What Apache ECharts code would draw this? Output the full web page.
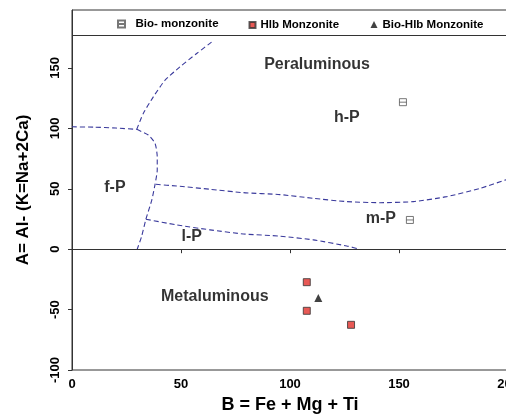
<!DOCTYPE html>
<html>
<head>
<meta charset="utf-8">
<script src="https://cdn.jsdelivr.net/npm/echarts@6/dist/echarts.min.js"></script>
<style>
  html, body { margin: 0; padding: 0; background: #fff; }
  #chart { width: 506px; height: 416px; }
</style>
</head>
<body>
<div id="chart"></div>
<script>
// Sample compositions, B = Fe + Mg + Ti vs A = Al - (K + Na + 2Ca)
const bioMonzonite = [[151.8, 121.7], [155, 24.2]];
const hlbMonzonite = [[107.7, -27.3], [107.7, -51], [128, -62.6]];
const bioHlbMonzonite = [[113, -40.5]];

// Field boundaries (dashed)
const boundaryTopLeft = [[0, 101.3], [10, 101], [20, 100.3], [29.7, 99.2]];
const boundaryUpper = [[29.7, 99.2], [32.7, 112.4], [37.3, 126.1], [42.7, 139.9], [49.5, 150.9], [57.2, 162], [64.5, 172.1]];
const boundaryFP = [[29.7, 99.2], [35, 94.5], [38.1, 87.6], [39.1, 76.5], [39.1, 65.5], [38.1, 53.7], [36.6, 40.7], [33.9, 24.8], [31.9, 10.4], [29.9, 0]];
const boundaryHP = [[38.5, 53.7], [48, 52.3], [63.3, 49.6], [78.6, 46.8], [95.4, 45.2], [110.7, 42.1], [126, 39.4], [141.3, 38.5], [156.6, 39.4], [171.9, 43.5], [187.2, 50.4], [200, 58]];
const boundaryLP = [[33.9, 24.8], [48, 20.1], [63.3, 16], [78.6, 12.6], [95.4, 10.8], [110.7, 7.7], [126, 2.7], [132, 0]];

// Field names and their positions
const fieldNames = ['Peraluminous', 'h-P', 'm-P', 'f-P', 'l-P', 'Metaluminous'];
const fieldX = [112.4, 126.1, 141.7, 19.7, 54.9, 65.5];
const fieldY = [152.6, 108.7, 25.1, 50.7, 10.4, -39.5];

// Axis ticks
const xTicks = [0, 50, 100, 150, 200];
const yTicks = [-100, -50, 0, 50, 100, 150];

const FONT = "'Liberation Sans', Arial, Helvetica, sans-serif";
const TEXT_COLOR = '#000';
const LINE_COLOR = '#3a3a9c';
const bioSymbol = 'path://M0,0L10,0L10,10L0,10Z M0,5L10,5';

function boundary(data) {
  return {
    type: 'line', data: data, smooth: 0.2, symbol: 'none', silent: true,
    lineStyle: { color: LINE_COLOR, width: 1.1, type: [5, 3] },
    z: 2
  };
}

const chart = echarts.init(document.getElementById('chart'), null, { renderer: 'canvas' });

chart.setOption({
  animation: false,
  backgroundColor: '#fff',
  textStyle: { fontFamily: FONT },
  grid: {
    left: 72, right: -2, top: 10, bottom: 46,
    outerBoundsMode: 'none', containLabel: false,
    show: true, borderColor: '#333', borderWidth: 1
  },
  legend: [
    {
      data: [{ name: 'Bio- monzonite', icon: bioSymbol }],
      left: 117, top: 18, padding: 0, itemWidth: 18, itemHeight: 7,
      textStyle: { fontSize: 11.5, fontWeight: 'bold', color: TEXT_COLOR, fontFamily: FONT }
    },
    {
      data: [{ name: 'Hlb Monzonite', icon: 'rect' }],
      left: 248.5, top: 19, padding: 0, itemWidth: 6, itemHeight: 6,
      textStyle: { fontSize: 11.5, fontWeight: 'bold', color: TEXT_COLOR, fontFamily: FONT }
    },
    {
      data: [{ name: 'Bio-Hlb Monzonite', icon: 'triangle' }],
      left: 370.5, top: 18.5, padding: 0, itemWidth: 7, itemHeight: 7,
      textStyle: { fontSize: 11.5, fontWeight: 'bold', color: TEXT_COLOR, fontFamily: FONT }
    }
  ],
  xAxis: {
    type: 'value', min: 0, max: 200, interval: 50,
    name: 'B = Fe + Mg + Ti', nameLocation: 'middle', nameGap: 22,
    nameTextStyle: { fontSize: 18, fontWeight: 'bold', color: TEXT_COLOR, fontFamily: FONT },
    axisLine: { show: true, lineStyle: { color: '#333', width: 1 } },
    axisTick: { show: true, length: 4, lineStyle: { color: '#333' }, customValues: xTicks },
    axisLabel: { fontSize: 13, fontWeight: 'bold', color: TEXT_COLOR, margin: 8, customValues: xTicks },
    splitLine: { show: false }
  },
  yAxis: {
    type: 'value', min: -100, max: 198, interval: 50,
    name: 'A= Al- (K=Na+2Ca)', nameLocation: 'middle', nameGap: 40,
    nameTextStyle: { fontSize: 17, fontWeight: 'bold', color: TEXT_COLOR, fontFamily: FONT },
    axisLine: { show: true, lineStyle: { color: '#333', width: 1 } },
    axisTick: { show: true, length: 4, lineStyle: { color: '#333' }, customValues: yTicks },
    axisLabel: { fontSize: 13, fontWeight: 'bold', color: TEXT_COLOR, margin: 10, rotate: 90, customValues: yTicks },
    splitLine: { show: false }
  },
  series: [
    boundary(boundaryTopLeft),
    boundary(boundaryUpper),
    boundary(boundaryFP),
    boundary(boundaryHP),
    boundary(boundaryLP),
    {
      // field names
      type: 'scatter', silent: true, symbolSize: 0,
      data: fieldNames.map((n, i) => ({ name: n, value: [fieldX[i], fieldY[i]] })),
      label: {
        show: true, position: 'inside', formatter: p => p.name,
        fontSize: 16, fontWeight: 'bold', color: TEXT_COLOR, fontFamily: FONT
      },
      markLine: {
        silent: true, symbol: 'none', label: { show: false },
        lineStyle: { color: '#333', type: 'solid', width: 1 },
        data: [{ yAxis: 0 }, { yAxis: 177.4 }]
      },
      z: 3
    },
    {
      name: 'Bio- monzonite', type: 'scatter', data: bioMonzonite,
      symbol: bioSymbol, symbolSize: 7,
      itemStyle: { color: '#fff', borderColor: '#555', borderWidth: 1 }, z: 5
    },
    {
      name: 'Hlb Monzonite', type: 'scatter', data: hlbMonzonite,
      symbol: 'rect', symbolSize: 7,
      itemStyle: { color: '#e2302a', borderColor: '#333', borderWidth: 1 }, z: 5
    },
    {
      name: 'Bio-Hlb Monzonite', type: 'scatter', data: bioHlbMonzonite,
      symbol: 'triangle', symbolSize: 8,
      itemStyle: { color: '#111' }, z: 5
    }
  ]
});
</script>
</body>
</html>
